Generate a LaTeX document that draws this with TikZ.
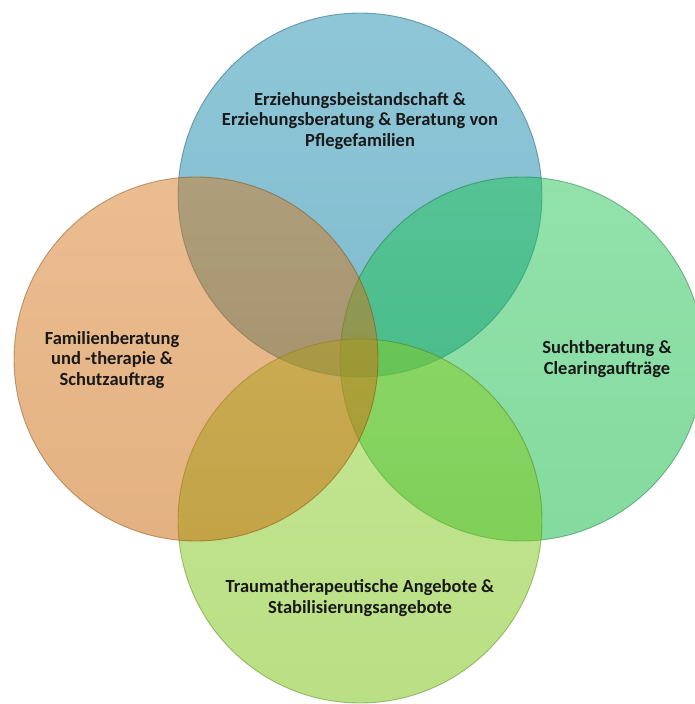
\documentclass[tikz,border=0pt]{standalone}
\usepackage{fontspec}
\setmainfont{Carlito}
\definecolor{ringblue}{RGB}{0,127,165}
\definecolor{ringorange}{RGB}{209,105,5}
\definecolor{ringgreen}{RGB}{9,189,65}
\definecolor{ringlime}{RGB}{121,199,9}
\begin{document}
\begin{tikzpicture}[x=1pt,y=-1pt,
        ring/.style={fill opacity=.5, draw opacity=.45, line width=.9pt},
        caption/.style={align=center, text=black!90,
            font=\bfseries\fontsize{18.5}{20.5}\selectfont}]
        \useasboundingbox (0,0) rectangle (695,704);
        %Top circle
        \shade[ring, top color=ringblue!88!white, bottom color=ringblue!96!black,
            draw=ringblue!60!black] (360,195) circle (182pt);
        %Right circle
        \shade[ring, top color=ringgreen!88!white, bottom color=ringgreen!96!black,
            draw=ringgreen!60!black] (522,359) circle (182pt);
        %Bottom circle
        \shade[ring, top color=ringlime!88!white, bottom color=ringlime!96!black,
            draw=ringlime!60!black] (360,521) circle (182pt);
        %Left circle
        \shade[ring, top color=ringorange!88!white, bottom color=ringorange!96!black,
            draw=ringorange!60!black] (196,359) circle (182pt);
        %Captions
        \node[caption] (erziehung) at (360,121)
        {Erziehungsbeistandschaft \&\\Erziehungsberatung \& Beratung von\\Pflegefamilien};
        \node[caption] (familie) at (112,360)
        {Familienberatung\\und -therapie \&\\Schutzauftrag};
        \node[caption] (sucht) at (607,359)
        {Suchtberatung \&\\Clearingaufträge};
        \node[caption] (trauma) at (360,598)
        {Traumatherapeutische Angebote \&\\Stabilisierungsangebote};
\end{tikzpicture}
\end{document}
